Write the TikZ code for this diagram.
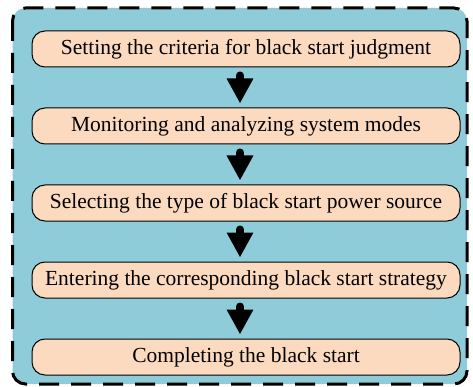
\documentclass[tikz,border=0pt]{standalone}
\usepackage{fontspec}
\setmainfont{Liberation Serif}
\usetikzlibrary{arrows.meta,calc}
\definecolor{outerblue}{HTML}{8ECCDA}
\definecolor{peach}{HTML}{FCDAC0}
\tikzset{
  stepbox/.style={draw=black, line width=1pt, fill=peach, rounded corners=13pt,
    minimum width=428pt, minimum height=36pt, inner sep=0pt,
    font=\fontsize{21.5}{24}\selectfont, text=black},
  flowarrow/.style={line width=8pt, line cap=round, black,
    -{Triangle[width=25pt,length=25pt]}}
}
\begin{document}
\begin{tikzpicture}[x=1pt,y=-1pt]
\useasboundingbox (0,0) rectangle (473,387);
\draw[line width=3pt, dash pattern=on 20pt off 12pt, fill=outerblue, rounded corners=13pt]
  (12.5,8) rectangle (467,384);
\node[stepbox] (s1) at (246,49) {Setting the criteria for black start judgment};
\node[stepbox] (s2) at (246,126) {Monitoring and analyzing system modes};
\node[stepbox] (s3) at (246,203) {Selecting the type of black start power source};
\node[stepbox] (s4) at (246,280) {Entering the corresponding black start strategy};
\node[stepbox] (s5) at (246,357) {Completing the black start};
\foreach \a/\b in {s1/s2,s2/s3,s3/s4,s4/s5}{
  \draw[flowarrow] ($(\a.south)+(-6,8)$) -- ($(\b.north)+(-6,-4)$);
}
\end{tikzpicture}
\end{document}
